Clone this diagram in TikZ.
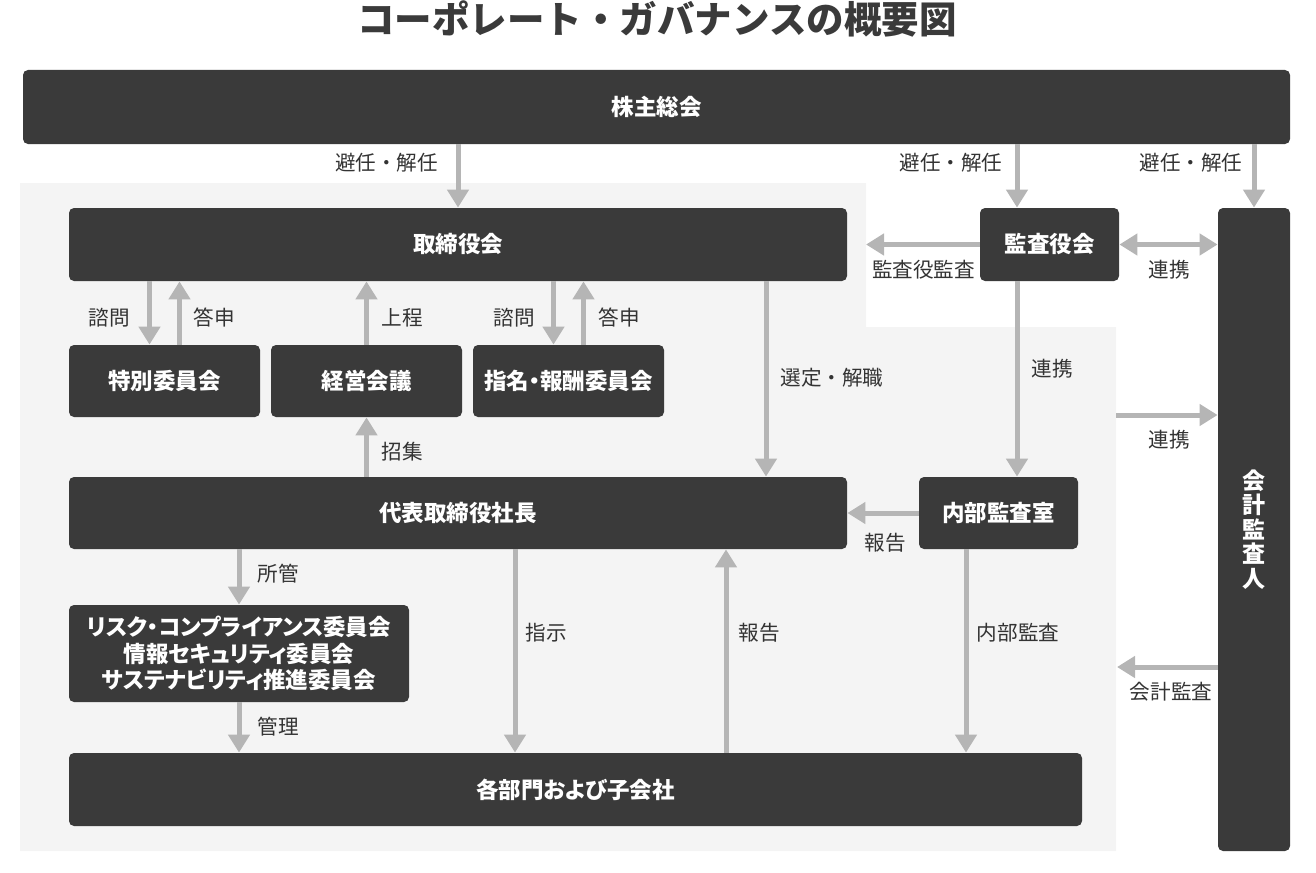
\documentclass[tikz,border=0pt]{standalone}
\usepackage{fontspec}
\usepackage{tikz}
\usetikzlibrary{arrows.meta}
\newfontfamily\jp{Noto Sans CJK JP}
\newfontfamily\jpp{Noto Sans CJK JP}[RawFeature=+palt]
\definecolor{boxgray}{HTML}{3A3A3A}
\definecolor{bggray}{HTML}{F4F4F4}
\definecolor{arrgray}{HTML}{B5B5B5}
\definecolor{txtgray}{HTML}{333333}
\tikzset{
  box/.style={fill=boxgray,rounded corners=2.5pt,text=white,inner sep=0pt,align=center,
    font=\jpp\bfseries\fontsize{11.25}{13.3}\selectfont},
  lbl/.style={text=txtgray,inner sep=0pt,font=\jp\fontsize{10.3}{12}\selectfont},
  arr/.style={draw=arrgray,line width=2.5pt,-{Triangle[width=10.5pt,length=9pt]}},
  arrboth/.style={draw=arrgray,line width=2.5pt,{Triangle[width=10.5pt,length=9pt]}-{Triangle[width=10.5pt,length=9pt]}}
}

\begin{document}
\begin{tikzpicture}[x=0.5pt,y=-0.5pt]
  \useasboundingbox (0,0) rectangle (1316,872);
  % background area
  \coordinate (g1) at (20,183);
  \coordinate (g2) at (866,183);
  \coordinate (g3) at (866,327);
  \coordinate (g4) at (1116,327);
  \coordinate (g5) at (1116,851);
  \coordinate (g6) at (20,851);
  \fill[bggray] (g1) -- (g2) -- (g3) -- (g4) -- (g5) -- (g6) -- cycle;

  \node[text=boxgray,font=\jp\bfseries\fontsize{18.75}{20}\selectfont] (title) at (657,19) {コーポレート・ガバナンスの概要図};

  % Boxes
  \node[box,minimum width=633.5pt,minimum height=37pt] (kabu) at (656.5,107) {株主総会};
  \node[box,minimum width=389pt,minimum height=36.5pt] (tori) at (458,244.5) {取締役会};
  \node[box,minimum width=69.5pt,minimum height=36.5pt] (kansa) at (1049.5,244.5) {監査役会};
  \node[box,minimum width=36pt,minimum height=321.5pt,font=\jp\bfseries\fontsize{11.5}{12.2}\selectfont] (kaikei) at (1254,529.5) {会\\計\\監\\査\\人};
  \node[box,minimum width=95.5pt,minimum height=36pt] (tokubetsu) at (164.5,381) {特別委員会};
  \node[box,minimum width=95.5pt,minimum height=36pt] (keiei) at (366.5,381) {経営会議};
  \node[box,minimum width=95.5pt,minimum height=36pt] (shimei) at (568.5,381) {指名・報酬委員会};
  \node[box,minimum width=389pt,minimum height=36pt] (daihyo) at (458,513) {代表取締役社長};
  \node[box,minimum width=79.5pt,minimum height=36pt] (naibu) at (998.5,513) {内部監査室};
  \node[box,minimum width=170pt,minimum height=48.5pt] (risk) at (239,653.5) {リスク・コンプライアンス委員会\\情報セキュリティ委員会\\サステナビリティ推進委員会};
  \node[box,minimum width=506.5pt,minimum height=36.5pt] (kakubu) at (575.5,789.5) {各部門および子会社};

  % x positions of the connectors
  \coordinate (xk) at (1017,0);
  \coordinate (xs) at (766,0);
  \coordinate (xd) at (515,0);
  \coordinate (xh) at (726,0);
  \coordinate (xn) at (966,0);
  \coordinate (yr) at (1116,415);
  \coordinate (ya) at (1117,667);

  % Connectors from the top
  \draw[arr] (kabu.south -| tori.north) -- (tori.north);
  \draw[arr] (kabu.south -| xk) -- (kansa.north -| xk);
  \draw[arr] (kabu.south -| kaikei.north) -- (kaikei.north);

  % Audit
  \draw[arr] (kansa.west) -- (kansa.west -| g2);
  \draw[arrboth] (kansa.east) -- (kansa.east -| kaikei.west);
  \draw[arr] (kansa.south -| xk) -- (naibu.north -| xk);
  \draw[arr] (yr) -- (yr -| kaikei.west);
  \draw[arr] (kaikei.west |- ya) -- (ya);
  \draw[arr] (naibu.west) -- (daihyo.east);

  % Board and committees
  \draw[arr] ([xshift=-7.5pt]tokubetsu.north |- tori.south) -- ([xshift=-7.5pt]tokubetsu.north);
  \draw[arr] ([xshift=7.5pt]tokubetsu.north) -- ([xshift=7.5pt]tokubetsu.north |- tori.south);
  \draw[arr] (keiei.north) -- (keiei.north |- tori.south);
  \draw[arr] ([xshift=-7.5pt]shimei.north |- tori.south) -- ([xshift=-7.5pt]shimei.north);
  \draw[arr] ([xshift=7.5pt]shimei.north) -- ([xshift=7.5pt]shimei.north |- tori.south);
  \draw[arr] (tori.south -| xs) -- (daihyo.north -| xs);
  \draw[arr] (daihyo.north -| keiei.south) -- (keiei.south);

  % Down to the departments
  \draw[arr] (daihyo.south -| risk.north) -- (risk.north);
  \draw[arr] (risk.south) -- (kakubu.north -| risk.south);
  \draw[arr] (daihyo.south -| xd) -- (kakubu.north -| xd);
  \draw[arr] (kakubu.north -| xh) -- (daihyo.south -| xh);
  \draw[arr] (naibu.south -| xn) -- (kakubu.north -| xn);

  % Labels
  \node[lbl] (l1) at (386.5,163) {避任・解任};
  \node[lbl] (l2) at (951,163) {避任・解任};
  \node[lbl] (l3) at (1191,163) {避任・解任};
  \node[lbl] (l4) at (923.5,270) {監査役監査};
  \node[lbl] (l5) at (1169,270) {連携};
  \node[lbl] (l6) at (1052,369) {連携};
  \node[lbl] (l7) at (1169,440) {連携};
  \node[lbl] (l8) at (109,318) {諮問};
  \node[lbl] (l9) at (214,318) {答申};
  \node[lbl] (l10) at (402,318) {上程};
  \node[lbl] (l11) at (514,318) {諮問};
  \node[lbl] (l12) at (619,318) {答申};
  \node[lbl] (l13) at (832,378) {選定・解職};
  \node[lbl] (l14) at (402,452) {招集};
  \node[lbl] (l15) at (885,543) {報告};
  \node[lbl] (l16) at (278,574) {所管};
  \node[lbl] (l17) at (278,727) {管理};
  \node[lbl] (l18) at (546,633) {指示};
  \node[lbl] (l19) at (759,633) {報告};
  \node[lbl] (l20) at (1018,633) {内部監査};
  \node[lbl] (l21) at (1171,692) {会計監査};
\end{tikzpicture}
\end{document}
